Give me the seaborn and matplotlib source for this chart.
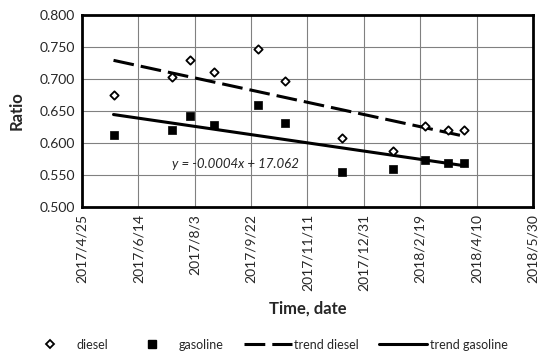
import numpy as np
import pandas as pd
import seaborn as sns
import matplotlib.dates as mdates
from matplotlib import pyplot as plt
from matplotlib.lines import Line2D

# sampling dates and ratio readings
dates = ["2017-05-23", "2017-07-14", "2017-07-30", "2017-08-20", "2017-09-28",
         "2017-10-22", "2017-12-12", "2018-01-26", "2018-02-23", "2018-03-16",
         "2018-03-30"]
diesel = [0.675, 0.703, 0.729, 0.711, 0.747, 0.697, 0.608, 0.588, 0.626, 0.621, 0.621]
gasoline = [0.613, 0.620, 0.643, 0.628, 0.659, 0.631, 0.555, 0.560, 0.574, 0.569, 0.569]

tick_dates = ["2017-04-25", "2017-06-14", "2017-08-03", "2017-09-22", "2017-11-11",
              "2017-12-31", "2018-02-19", "2018-04-10", "2018-05-30"]
y_ticks = [0.500, 0.550, 0.600, 0.650, 0.700, 0.750, 0.800]
equation = "y = -0.0004x + 17.062"

sns.set_style("white")
plt.rcParams['font.family'] = ['Lato', 'DejaVu Sans']

df = pd.DataFrame({"date": pd.to_datetime(dates), "diesel": diesel, "gasoline": gasoline})
df["t"] = mdates.date2num(df["date"])
ticks = pd.to_datetime(tick_dates)
tnum = mdates.date2num(ticks)

DASH = (6.8, 2.3)

fig = plt.figure(figsize=(5.5, 3.57), dpi=100)
ax = fig.add_axes([0.149, 0.42, 0.82, 0.538])

# trend lines (linear fit)
sns.regplot(data=df, x="t", y="diesel", scatter=False, ci=None, truncate=True, ax=ax,
            line_kws=dict(color="black", lw=2.2, dashes=DASH))
sns.regplot(data=df, x="t", y="gasoline", scatter=False, ci=None, truncate=True, ax=ax,
            line_kws=dict(color="black", lw=2.2))

sns.scatterplot(data=df, x="t", y="diesel", marker="D", s=18, facecolor="white",
                edgecolor="black", linewidth=1.3, ax=ax, zorder=5)
sns.scatterplot(data=df, x="t", y="gasoline", marker="s", s=38, color="black",
                edgecolor="black", ax=ax, zorder=5)

ax.set_xlim(tnum[0], tnum[-1])
ax.set_ylim(0.5, 0.8)
ax.set_xticks(tnum)
ax.set_xticklabels([f"{d.year}/{d.month}/{d.day}" for d in ticks], rotation=90, fontsize=10)
ax.set_yticks(y_ticks)
ax.set_yticklabels([f"{v:.3f}" for v in y_ticks], fontsize=10)
ax.grid(True, color="#808080", lw=0.8)
ax.tick_params(direction="inout", length=4, width=1.5, color="black", pad=3)
for s in ax.spines.values():
    s.set_linewidth(2)
    s.set_color("black")

ax.set_xlabel("Time, date", fontsize=12, fontweight="bold", labelpad=7)
ax.set_ylabel("Ratio", fontsize=12, fontweight="bold", labelpad=11)

ax.text(0.2, 0.224, equation, transform=ax.transAxes, fontsize=9.5, style="italic",
        va="center")

handles = [
    Line2D([], [], ls="none", marker="D", ms=4, mfc="white", mec="black", mew=1.3),
    Line2D([], [], ls="none", marker="s", ms=6, color="black"),
    Line2D([], [], color="black", lw=2.2, dashes=DASH),
    Line2D([], [], color="black", lw=2.2),
]
fig.legend(handles, ["diesel", "gasoline", "trend diesel", "trend gasoline"],
           loc="center", bbox_to_anchor=(0.485, 0.035), ncol=4, frameon=False,
           fontsize=9, handlelength=3.84, columnspacing=1.6, handletextpad=0.2)

fig.savefig("out.png", dpi=100)
